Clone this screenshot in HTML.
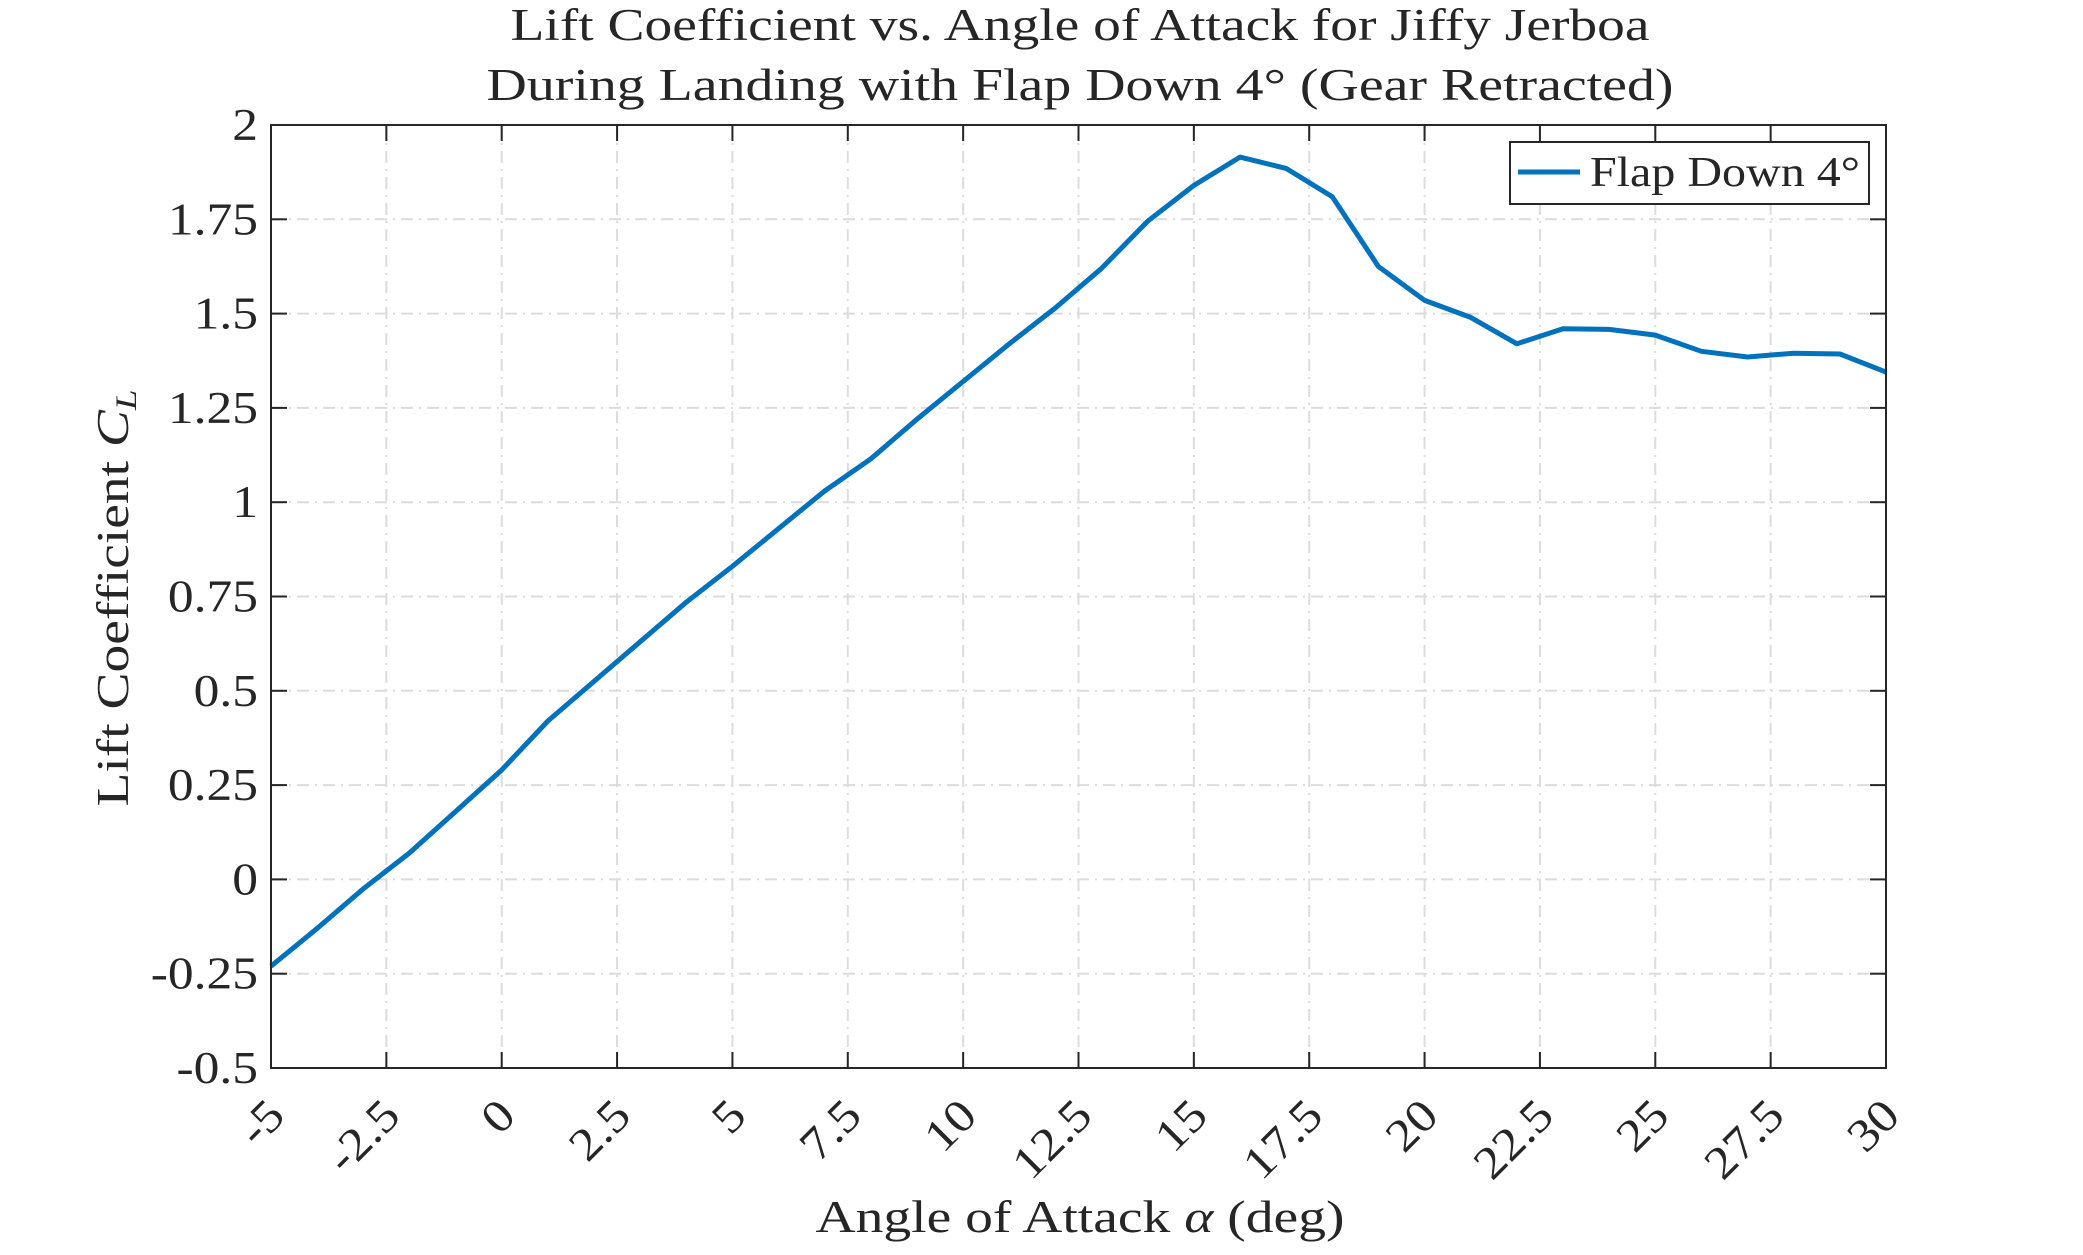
<!DOCTYPE html>
<html><head><meta charset="utf-8"><style>
html,body{margin:0;padding:0;background:#fff;}
svg text{font-family:"Liberation Serif",serif;fill:#262626;}
</style></head><body>
<svg id="chart" width="2083" height="1250" xmlns="http://www.w3.org/2000/svg">
<rect width="2083" height="1250" fill="#fff"/>
<g id="grid"></g>
<g id="ticks"></g>
<path id="series" fill="none" stroke="#0072BD" stroke-width="5" stroke-linejoin="round"/>
<rect x="271" y="125" width="1615" height="943" fill="none" stroke="#262626" stroke-width="2"/>
<text x="1080" y="40" font-size="45" text-anchor="middle" textLength="1139" lengthAdjust="spacingAndGlyphs">Lift Coefficient vs. Angle of Attack for Jiffy Jerboa</text>
<text x="1080" y="100" font-size="45" text-anchor="middle" textLength="1187" lengthAdjust="spacingAndGlyphs">During Landing with Flap Down 4° (Gear Retracted)</text>
<text x="1080" y="1232" font-size="45" text-anchor="middle" textLength="529" lengthAdjust="spacingAndGlyphs">Angle of Attack <tspan font-style="italic">α</tspan> (deg)</text>
<text transform="translate(128,598) rotate(-90)" font-size="45" text-anchor="middle" textLength="417" lengthAdjust="spacingAndGlyphs">Lift Coefficient <tspan font-style="italic">C</tspan><tspan font-style="italic" font-size="30" dy="8">L</tspan></text>
<g>
<rect x="1510" y="142" width="359" height="62" fill="#fff" stroke="#262626" stroke-width="2"/>
<line x1="1518" y1="172" x2="1580" y2="172" stroke="#0072BD" stroke-width="5"/>
<text x="1590" y="186" font-size="42" textLength="270" lengthAdjust="spacingAndGlyphs">Flap Down 4°</text>
</g>
</svg>
<script>
const xTicks = [-5,-2.5,0,2.5,5,7.5,10,12.5,15,17.5,20,22.5,25,27.5,30];
const xTickLabels = ["-5","-2.5","0","2.5","5","7.5","10","12.5","15","17.5","20","22.5","25","27.5","30"];
const yTicks = [-0.5,-0.25,0,0.25,0.5,0.75,1,1.25,1.5,1.75,2];
const yTickLabels = ["-0.5","-0.25","0","0.25","0.5","0.75","1","1.25","1.5","1.75","2"];
const alphaDeg = [-5,-4,-3,-2,-1,0,1,2,3,4,5,6,7,8,9,10,11,12,13,14,15,16,17,18,19,20,21,22,23,24,25,26,27,28,29,30];
const liftCoef = [-0.23,-0.13,-0.025,0.07,0.18,0.29,0.42,0.525,0.63,0.735,0.83,0.93,1.03,1.115,1.22,1.32,1.42,1.515,1.62,1.745,1.84,1.915,1.885,1.81,1.625,1.535,1.49,1.42,1.46,1.458,1.443,1.40,1.385,1.395,1.393,1.345];

const L=271,R=1886,T=125,B=1068;
const xMin=-5,xMax=30,yMin=-0.5,yMax=2;
function sx(v){return L+(v-xMin)/(xMax-xMin)*(R-L);}
function sy(v){return B-(v-yMin)/(yMax-yMin)*(B-T);}
const NS="http://www.w3.org/2000/svg";
const grid=document.getElementById('grid'), ticks=document.getElementById('ticks');
function mk(tag,attrs,parent){const e=document.createElementNS(NS,tag);for(const k in attrs)e.setAttribute(k,attrs[k]);parent.appendChild(e);return e;}
xTicks.forEach((v,i)=>{
  const x=sx(v);
  if(i>0&&i<xTicks.length-1){
    const g=mk('line',{x1:x,y1:T,x2:x,y2:B,stroke:'#dcdcdc','stroke-width':2,'stroke-dasharray':'12 6 2 6'},grid);
    
    
  }
  const t1=mk('line',{x1:x,y1:B,x2:x,y2:B-16,stroke:'#262626','stroke-width':2},ticks);
  
  
  const t2=mk('line',{x1:x,y1:T,x2:x,y2:T+16,stroke:'#262626','stroke-width':2},ticks);
  
  
  const lb=mk('text',{x:0,y:0,'font-size':46,'text-anchor':'end',transform:`translate(${x+16},${B+50}) rotate(-45) scale(1.12,1)`},ticks);
  lb.textContent=xTickLabels[i];
  
  
});
yTicks.forEach((v,i)=>{
  const y=sy(v);
  if(i>0&&i<yTicks.length-1){
    const g=mk('line',{x1:L,y1:y,x2:R,y2:y,stroke:'#dcdcdc','stroke-width':2,'stroke-dasharray':'12 6 2 6'},grid);
    
    
  }
  const t1=mk('line',{x1:L,y1:y,x2:L+16,y2:y,stroke:'#262626','stroke-width':2},ticks);
  
  
  const t2=mk('line',{x1:R,y1:y,x2:R-16,y2:y,stroke:'#262626','stroke-width':2},ticks);
  
  
  const lb=mk('text',{x:0,y:0,'font-size':46,'text-anchor':'end',transform:`translate(258,${y+15}) scale(1.12,1)`},ticks);
  lb.textContent=yTickLabels[i];
  
  
});
document.getElementById('series').setAttribute('d',alphaDeg.map((a,i)=>(i?'L':'M')+sx(a).toFixed(1)+','+sy(liftCoef[i]).toFixed(1)).join(' '));
</script>
</body></html>
